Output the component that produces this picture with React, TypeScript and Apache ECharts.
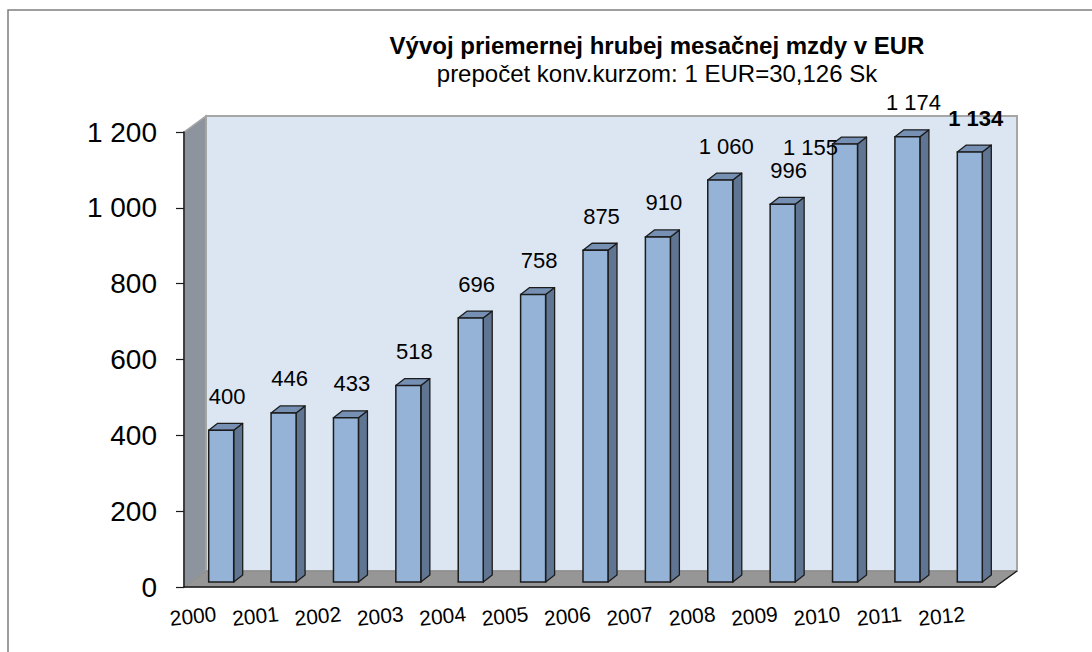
import React, { useEffect, useRef } from "react";
import * as echarts from "echarts";

const years = ["2000", "2001", "2002", "2003", "2004", "2005", "2006", "2007", "2008", "2009", "2010", "2011", "2012"];
const wages = [400, 446, 433, 518, 696, 758, 875, 910, 1060, 996, 1155, 1174, 1134];
const titleText = "Vývoj priemernej hrubej mesačnej mzdy v EUR";
const subtitleText = "prepočet konv.kurzom: 1 EUR=30,126 Sk";

const FONT = '"Liberation Sans", Arial, sans-serif';
const fmt = (v: number) => String(v).replace(/\B(?=(\d{3})+(?!\d))/g, " ");

// 3D depth of the plot box
const DX = 22;
const DY = -16;

export default function App() {
  const ref = useRef<HTMLDivElement>(null);
  useEffect(() => {
    if (!ref.current) return;
    const chart = echarts.init(ref.current, null, { renderer: "svg" });
    const last = wages.length - 1;
    const labelFont = (bold: boolean) => `${bold ? "bold " : ""}22px ${FONT}`;
    const approxW = (t: string) => t.length * 11.6;
    const LABEL_DX = 6;
    const LABEL_DY = -34;

    chart.setOption({
      animation: false,
      backgroundColor: "#ffffff",
      graphic: [
        {
          type: "rect",
          shape: { x: 8, y: 10, width: 1200, height: 800 },
          style: { fill: "none", stroke: "#7f7f7f", lineWidth: 1.5 },
          silent: true,
          z: -10,
        },
        {
          type: "text",
          x: 657,
          y: 45,
          style: {
            text: titleText,
            font: `bold 24px ${FONT}`,
            fill: "#000",
            align: "center",
            verticalAlign: "middle",
          },
        },
        {
          type: "text",
          x: 657,
          y: 73,
          style: {
            text: subtitleText,
            font: `24px ${FONT}`,
            fill: "#000",
            align: "center",
            verticalAlign: "middle",
          },
        },
      ],
      grid: { left: 184, right: 97, top: 132, bottom: 65, containLabel: false },
      xAxis: {
        type: "category",
        data: years,
        z: 10,
        axisLine: { lineStyle: { color: "#1a1a1a", width: 1.5 } },
        axisTick: { length: 6, lineStyle: { color: "#1a1a1a", width: 1.2 } },
        axisLabel: { show: false },
        splitLine: { show: false },
      },
      yAxis: {
        type: "value",
        min: 0,
        max: 1200,
        interval: 200,
        z: 10,
        axisLine: { show: true, lineStyle: { color: "#1a1a1a", width: 1.5 } },
        axisTick: { show: true, length: 8, lineStyle: { color: "#1a1a1a", width: 1.2 } },
        axisLabel: {
          margin: 27,
          fontSize: 28,
          fontFamily: FONT,
          color: "#000",
          formatter: (v: number) => fmt(v),
        },
        splitLine: { show: false },
      },
      series: [
        {
          type: "custom",
          z: -1,
          silent: true,
          data: [[0, 0]],
          renderItem: (params: any, api: any) => {
            const cs = params.coordSys;
            const x = cs.x;
            const y = cs.y;
            const w = cs.width;
            const h = cs.height;
            return {
              type: "group",
              children: [
                {
                  type: "rect",
                  shape: { x: x + DX, y: y + DY, width: w, height: h },
                  style: { fill: "#dce6f2", stroke: "#a6a6a6", lineWidth: 2 },
                },
                {
                  type: "polygon",
                  shape: {
                    points: [
                      [x, y],
                      [x + DX, y + DY],
                      [x + DX, y + h + DY],
                      [x, y + h],
                    ],
                  },
                  style: { fill: "#8d949d", stroke: "#a6a6a6", lineWidth: 1.5 },
                },
                {
                  type: "polygon",
                  shape: {
                    points: [
                      [x, y + h],
                      [x + DX, y + h + DY],
                      [x + w + DX, y + h + DY],
                      [x + w, y + h],
                    ],
                  },
                  style: { fill: "#969696", stroke: "#8a8a8a", lineWidth: 1 },
                },
                {
                  type: "line",
                  shape: { x1: x + w, y1: y + h, x2: x + w + DX, y2: y + h + DY },
                  style: { stroke: "#1a1a1a", lineWidth: 1.5 },
                },
              ],
            };
          },
        },
        {
          type: "custom",
          z: 3,
          data: wages.map((v, i) => [i, v]),
          renderItem: (params: any, api: any) => {
            const i = api.value(0);
            const v = api.value(1);
            const base = api.coord([i, 0]);
            const top = api.coord([i, v]);
            const band = api.size([1, 0])[0];
            const bw = 25;
            const ox = 6;
            const oy = -5;
            const ddx = 9;
            const ddy = -7;
            const x0 = base[0] - bw / 2 + ox;
            const x1 = x0 + bw;
            const yb = base[1] + oy;
            const yt = top[1] + oy;
            const stroke = "#1c1c1c";
            const isLast = params.dataIndex === last;

            // default label position above the bar
            const txt = fmt(v);
            let lx = x0 + bw / 2 + LABEL_DX;
            let ly = yt + LABEL_DY;
            // if the next (higher) label would collide, move this one to the left of the bar top
            if (i < last) {
              const nv = wages[i + 1];
              const nTop = api.coord([i + 1, nv]);
              const nlx = nTop[0] + ox + LABEL_DX;
              const nly = nTop[1] + oy + LABEL_DY;
              const gap = nlx - approxW(fmt(nv)) / 2 - (lx + approxW(txt) / 2);
              if (nly < ly && gap < 10 && Math.abs(nly - ly) < 24) {
                lx = x0 - 22;
                ly = yt + 3;
              }
            }

            return {
              type: "group",
              children: [
                {
                  type: "polygon",
                  shape: { points: [[x1, yb], [x1, yt], [x1 + ddx, yt + ddy], [x1 + ddx, yb + ddy]] },
                  style: { fill: "#5f7592", stroke, lineWidth: 1.3, lineJoin: "round" },
                },
                {
                  type: "polygon",
                  shape: { points: [[x0, yt], [x1, yt], [x1 + ddx, yt + ddy], [x0 + ddx, yt + ddy]] },
                  style: { fill: "#7690b4", stroke, lineWidth: 1.3, lineJoin: "round" },
                },
                {
                  type: "rect",
                  shape: { x: x0, y: yt, width: bw, height: yb - yt },
                  style: { fill: "#95b3d7", stroke, lineWidth: 1.5 },
                },
                {
                  type: "text",
                  x: lx,
                  y: ly,
                  style: {
                    text: txt,
                    font: labelFont(isLast),
                    fill: "#000",
                    align: "center",
                    verticalAlign: "middle",
                  },
                },
                {
                  type: "text",
                  x: base[0] - band / 2 + 9,
                  y: base[1] + 29,
                  rotation: 0.1,
                  style: {
                    text: years[i],
                    font: `21px ${FONT}`,
                    fill: "#000",
                    align: "center",
                    verticalAlign: "middle",
                  },
                },
              ],
            };
          },
        },
      ],
    });
    return () => chart.dispose();
  }, []);
  return (
    <div
      ref={ref}
      style={{ position: "fixed", left: 0, top: 0, width: 1092, height: 652 }}
    />
  );
}
